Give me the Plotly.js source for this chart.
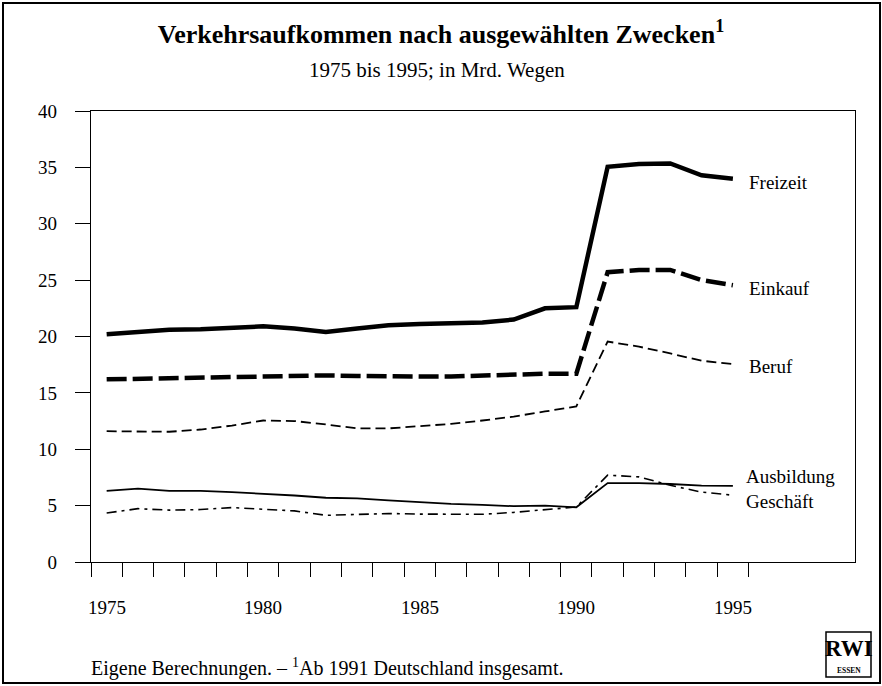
<!DOCTYPE html>
<html>
<head>
<meta charset="utf-8">
<script src="https://cdn.plot.ly/plotly-3.0.1.min.js"></script>
<style>
html,body{margin:0;padding:0;background:#fff;}
#chart{width:882px;height:686px;}
</style>
</head>
<body>
<div id="chart"></div>
<script>
// ---- data ----
const years = [1975,1976,1977,1978,1979,1980,1981,1982,1983,1984,1985,1986,1987,1988,1989,1990,1991,1992,1993,1994,1995];
const freizeit   = [20.2,20.35,20.6,20.65,20.8,20.9,20.7,20.4,20.7,21.0,21.1,21.15,21.25,21.5,22.5,22.6,35.05,35.3,35.35,34.3,34.0];
const einkauf    = [16.2,16.25,16.3,16.3,16.35,16.4,16.5,16.55,16.5,16.45,16.45,16.45,16.55,16.6,16.7,16.7,25.7,25.9,25.9,25.0,24.55];
const beruf      = [11.6,11.55,11.55,11.75,12.1,12.55,12.5,12.2,11.85,11.85,12.05,12.25,12.55,12.9,13.35,13.8,19.55,19.1,18.5,17.85,17.55];
const ausbildung = [6.3,6.5,6.3,6.3,6.2,6.07,5.9,5.7,5.65,5.47,5.3,5.15,5.06,4.95,5.0,4.85,7.0,7.0,6.92,6.78,6.75];
const geschaeft  = [4.35,4.73,4.6,4.65,4.83,4.7,4.53,4.14,4.23,4.3,4.25,4.22,4.23,4.4,4.67,4.88,7.7,7.55,6.8,6.2,5.92];
const seriesNames = ['Freizeit','Einkauf','Beruf','Ausbildung','Geschäft'];
const xTickLabels = [1975,1980,1985,1990,1995];
const yTicks = [0,5,10,15,20,25,30,35,40];
const titleText = 'Verkehrsaufkommen nach ausgewählten Zwecken';
const subtitleText = '1975 bis 1995; in Mrd. Wegen';
const footnoteText = 'Eigene Berechnungen. – <sup>1</sup>Ab 1991 Deutschland insgesamt.';

// ---- layout helpers ----
const W = 882, H = 686;
const M = {l:91, r:27, t:111, b:124};
const PW = W - M.l - M.r, PH = H - M.t - M.b;
const px = x => (x - M.l) / PW;          // pixel -> paper x
const py = y => (H - M.b - y) / PH;      // pixel -> paper y
const FONT = 'Liberation Serif';

const serie = (y, name, width, dash) => ({
  x: years, y: y, name: name, type: 'scatter', mode: 'lines',
  line: {color: '#000', width: width, dash: dash, shape: 'linear'},
  hoverinfo: 'skip', showlegend: false
});

const data = [
  serie(freizeit, seriesNames[0], 4.5, 'solid'),
  serie(einkauf, seriesNames[1], 4.5, '20px,6px'),
  serie(beruf, seriesNames[2], 1.8, '10px,5px'),
  serie(ausbildung, seriesNames[3], 1.8, 'solid'),
  serie(geschaeft, seriesNames[4], 1.6, '10px,5px,3px,5px')
];

// tick marks sit between the years; labels are centred on the years
const boundaries = years.map(y => y - 0.5).concat([years[years.length-1] + 0.5]);
const xRange = [1974.5, 1998.9];

// end labels next to each series
const labelY = [33.7, 24.26, 17.3, 7.6, 5.41];
const labelX = [1995.45, 1995.45, 1995.45, 1995.35, 1995.35];

const annotations = seriesNames.map((n, i) => ({
  text: n, x: labelX[i], y: labelY[i], xref: 'x', yref: 'y',
  xanchor: 'left', yanchor: 'middle', showarrow: false,
  font: {family: FONT, size: 19, color: '#000'}
}));

// year labels of the x axis, centred on their year
xTickLabels.forEach(yr => annotations.push({
  text: String(yr), x: yr, y: py(607), xref: 'x', yref: 'paper',
  xanchor: 'center', yanchor: 'middle', showarrow: false,
  font: {family: FONT, size: 19, color: '#000'}
}));

annotations.push({
  text: subtitleText, xref: 'paper', yref: 'paper', x: px(437), y: py(70),
  xanchor: 'center', yanchor: 'middle', showarrow: false,
  font: {family: FONT, size: 21, color: '#000'}
});
annotations.push({
  text: footnoteText, xref: 'paper', yref: 'paper', x: px(89), y: py(667),
  xanchor: 'left', yanchor: 'middle', showarrow: false,
  font: {family: FONT, size: 20, color: '#000'}
});
annotations.push({
  text: '<b>RWI</b>', xref: 'paper', yref: 'paper', x: px(848.5), y: py(648),
  xanchor: 'center', yanchor: 'middle', showarrow: false,
  font: {family: FONT, size: 23, color: '#000'}
});
annotations.push({
  text: '<b>ESSEN</b>', xref: 'paper', yref: 'paper', x: px(848.5), y: py(670),
  xanchor: 'center', yanchor: 'middle', showarrow: false,
  font: {family: FONT, size: 7.5, color: '#000'}
});

const shapes = [
  {type: 'rect', xref: 'paper', yref: 'paper', x0: px(3), x1: px(880), y0: py(683), y1: py(3),
   line: {color: '#000', width: 2}},
  {type: 'rect', xref: 'paper', yref: 'paper', x0: px(826), x1: px(871), y0: py(677), y1: py(632),
   line: {color: '#000', width: 1.5}}
];

const layout = {
  width: W, height: H, margin: M,
  paper_bgcolor: '#fff', plot_bgcolor: '#fff',
  font: {family: FONT, color: '#000', size: 18},
  title: {
    text: '<b>' + titleText + '<sup>1</sup></b>',
    xref: 'container', yref: 'container', x: 0.5, y: 1 - 34/H,
    xanchor: 'center', yanchor: 'middle',
    font: {family: FONT, size: 26, color: '#000'}
  },
  xaxis: {
    range: xRange, showgrid: false, zeroline: false,
    showline: true, mirror: true, linecolor: '#000', linewidth: 1.2,
    tickmode: 'array', tickvals: boundaries, showticklabels: false,
    ticks: 'outside', ticklen: 14, tickwidth: 1, tickcolor: '#000'
  },
  yaxis: {
    range: [0, 40], showgrid: false, zeroline: false,
    showline: true, mirror: true, linecolor: '#000', linewidth: 1.2,
    tickmode: 'array', tickvals: yTicks,
    ticks: 'outside', ticklen: 15, tickwidth: 1, tickcolor: '#000',
    ticklabelstandoff: 14,
    tickfont: {family: FONT, size: 19, color: '#000'}
  },
  annotations: annotations,
  shapes: shapes,
  showlegend: false
};

Plotly.newPlot('chart', data, layout, {staticPlot: true, displayModeBar: false});
</script>
</body>
</html>
